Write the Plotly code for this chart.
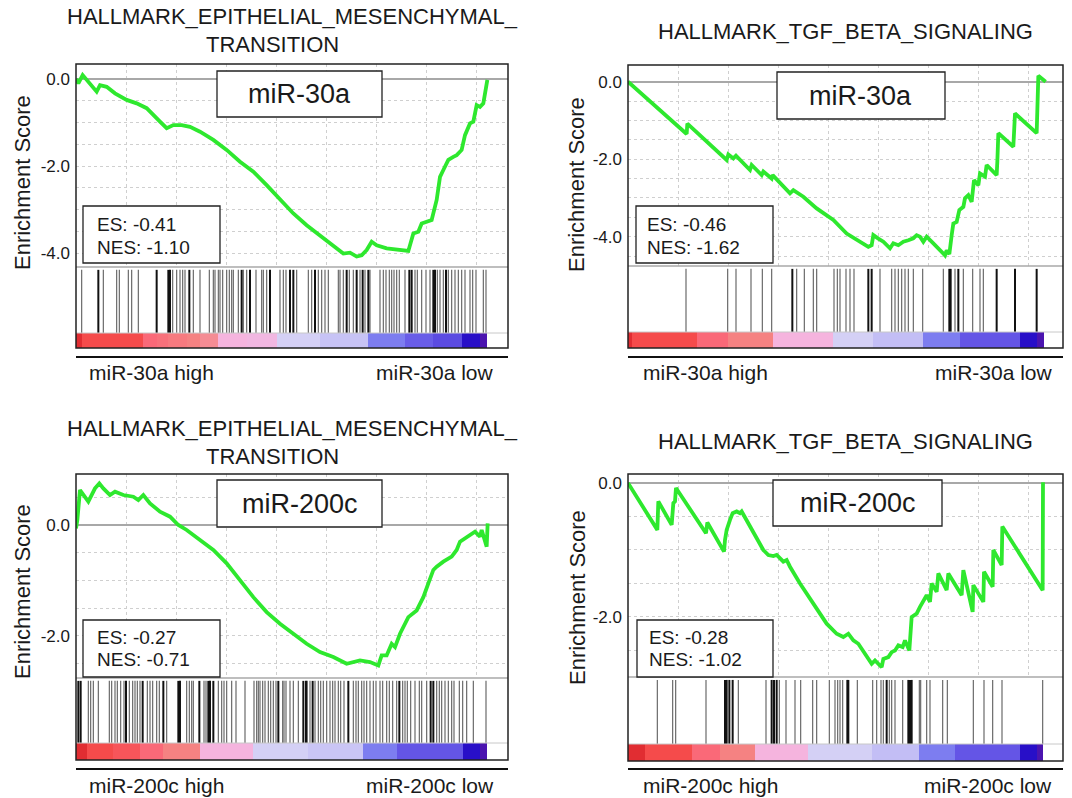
import plotly.graph_objects as go

W, H = 1072, 798
FONT = "Liberation Sans, Arial, sans-serif"

# ---------------- data ----------------
titles = [["HALLMARK_EPITHELIAL_MESENCHYMAL_", "TRANSITION"],
          ["HALLMARK_TGF_BETA_SIGNALING"],
          ["HALLMARK_EPITHELIAL_MESENCHYMAL_", "TRANSITION"],
          ["HALLMARK_TGF_BETA_SIGNALING"]]
mirnas = ["miR-30a", "miR-30a", "miR-200c", "miR-200c"]
es_values = ["-0.41", "-0.46", "-0.27", "-0.28"]
nes_values = ["-1.10", "-1.62", "-0.71", "-1.02"]
ytick_vals = [[0, -0.2, -0.4], [0, -0.2, -0.4], [0, -0.2], [0, -0.2]]
ytick_text = [["0.0", "-2.0", "-4.0"], ["0.0", "-2.0", "-4.0"], ["0.0", "-2.0"], ["0.0", "-2.0"]]

# running enrichment score (rank in ranked list, ES)
emt_30a_rank = [0, 117, 333, 700, 1033, 1200, 1533, 1950, 2533, 3033, 3533, 4200, 4533, 4867, 5283,
                5700, 6200, 6867, 7533, 8200, 8867, 9533, 10200, 10867, 11533, 12200, 12867, 13367,
                13700, 14033, 14283, 14533, 14783, 15033, 15533, 16200, 16617, 16867, 17117, 17283,
                17533, 17783, 18033, 18200, 18367, 18617, 18867, 19033, 19283, 19450, 19700, 19867,
                20033, 20200, 20367, 20450, 20567]
emt_30a_es = [0.0, -0.010, 0.009, -0.010, -0.029, -0.014, -0.018, -0.033, -0.048, -0.056, -0.067,
              -0.098, -0.113, -0.106, -0.106, -0.110, -0.121, -0.140, -0.163, -0.190, -0.213, -0.244,
              -0.278, -0.309, -0.336, -0.359, -0.382, -0.401, -0.399, -0.408, -0.405, -0.393, -0.374,
              -0.382, -0.389, -0.393, -0.395, -0.355, -0.351, -0.332, -0.328, -0.324, -0.278, -0.225,
              -0.209, -0.186, -0.179, -0.175, -0.163, -0.129, -0.102, -0.098, -0.060, -0.064, -0.056,
              -0.029, -0.002]

tgf_30a_rank = [0, 2933, 2967, 4933, 5017, 5267, 5400, 6100, 6183, 6683, 6767, 7183, 7233, 8100, 8267,
                8767, 9433, 10267, 10933, 11433, 12017, 12183, 12267, 12517, 12767, 13100, 13267, 13517,
                13767, 14017, 14267, 14433, 14600, 14767, 14933, 15267, 15600, 15850, 15933, 16067,
                16183, 16267, 16433, 16567, 16767, 16850, 17017, 17183, 17300, 17517, 17600, 17850,
                17933, 18433, 18467, 18517, 19267, 19350, 20433, 20467, 20517, 20883]
tgf_30a_es = [0.0, -0.135, -0.108, -0.202, -0.188, -0.198, -0.191, -0.228, -0.215, -0.241, -0.232,
              -0.250, -0.241, -0.288, -0.280, -0.297, -0.327, -0.357, -0.392, -0.409, -0.426, -0.422,
              -0.396, -0.405, -0.413, -0.430, -0.417, -0.422, -0.413, -0.409, -0.404, -0.396, -0.400,
              -0.413, -0.400, -0.417, -0.435, -0.448, -0.435, -0.445, -0.396, -0.366, -0.362, -0.331,
              -0.323, -0.301, -0.293, -0.310, -0.254, -0.267, -0.237, -0.245, -0.215, -0.241, -0.206,
              -0.133, -0.168, -0.082, -0.133, -0.056, 0.015, 0.0]

emt_200c_rank = [0, 67, 200, 450, 617, 950, 1167, 1367, 1700, 1950, 2367, 2867, 3117, 3367, 3700, 4200,
                 4700, 5117, 5533, 6200, 6867, 7533, 8200, 8867, 9533, 10200, 10867, 11533, 12200, 12867,
                 13533, 13867, 14200, 14700, 15117, 15283, 15533, 15783, 15950, 16200, 16450, 16617,
                 17033, 17367, 17617, 17867, 18033, 18367, 18783, 19033, 19200, 19450, 19617, 19783,
                 19950, 20200, 20283, 20533, 20583]
emt_200c_es = [-0.006, 0.009, 0.063, 0.051, 0.042, 0.066, 0.075, 0.066, 0.054, 0.060, 0.054, 0.051,
               0.045, 0.054, 0.039, 0.024, 0.015, 0.0, -0.009, -0.027, -0.045, -0.069, -0.099, -0.130,
               -0.157, -0.178, -0.196, -0.214, -0.229, -0.238, -0.250, -0.247, -0.244, -0.247, -0.253,
               -0.235, -0.235, -0.214, -0.220, -0.196, -0.178, -0.166, -0.154, -0.130, -0.105, -0.081,
               -0.075, -0.066, -0.057, -0.045, -0.030, -0.024, -0.021, -0.018, -0.012, -0.021, -0.009,
               -0.039, 0.003]

tgf_200c_rank = [0, 1467, 1517, 2183, 2267, 2350, 2400, 3900, 3967, 4800, 4850, 4933, 5100, 5233, 5433,
                 5600, 5683, 6767, 7017, 7267, 7433, 7767, 7933, 8100, 8600, 9267, 9933, 10433, 10767,
                 11017, 11267, 11517, 11850, 12183, 12350, 12517, 12683, 12767, 13017, 13183, 13350,
                 13517, 13733, 13850, 14067, 14183, 14433, 14600, 14767, 14933, 15100, 15183, 15433,
                 15517, 15933, 16017, 16683, 16767, 17233, 17267, 17767, 17800, 18233, 18267, 18683,
                 18717, 20733, 20750]
tgf_200c_es = [0.0, -0.070, -0.0275, -0.0625, -0.030, -0.0275, -0.0075, -0.075, -0.059, -0.1025,
               -0.085, -0.070, -0.055, -0.045, -0.0425, -0.045, -0.0425, -0.100, -0.1075, -0.109,
               -0.1075, -0.1175, -0.115, -0.125, -0.150, -0.180, -0.210, -0.225, -0.230, -0.225,
               -0.235, -0.240, -0.255, -0.270, -0.265, -0.270, -0.275, -0.2625, -0.260, -0.2525,
               -0.250, -0.2425, -0.245, -0.235, -0.250, -0.200, -0.195, -0.185, -0.175, -0.1675,
               -0.1775, -0.150, -0.1625, -0.135, -0.160, -0.135, -0.1675, -0.130, -0.1925, -0.1525,
               -0.1775, -0.1325, -0.155, -0.100, -0.1225, -0.065, -0.160, 0.001]

# gene-set hits in the ranked list (normal / strong marks)
emt_30a_hits = [283, 1367, 2033, 2167, 2617, 2783, 3117, 4833, 5033, 5200, 5333, 5450, 5867, 6200, 6667,
                6867, 6950, 7117, 7200, 7333, 7533, 7667, 7783, 7867, 8117, 8367, 8533, 9000, 9283, 9367,
                9533, 10200, 10367, 10500, 11033, 11617, 11783, 12117, 12283, 12450, 12617, 13117, 13200,
                13367, 13667, 13867, 14200, 14450, 14700, 15200, 15367, 15500, 15667, 15783, 15900, 16033,
                16167, 16450, 16950, 17067, 17283, 17500, 17700, 18067, 18200, 18367, 18617, 18783, 18950,
                19117, 19283, 19450, 19700, 19833, 20000, 20367, 20500]
emt_30a_hits_strong = [1117, 4033, 4617, 4700, 5667, 8283, 8700, 9700, 10700, 10867, 11950, 13533, 14033,
                       14333, 14617, 16667, 16783, 17867, 17950, 18500]

tgf_30a_hits = [2900, 4983, 5400, 6150, 6717, 7183, 8433, 8817, 9267, 9433, 10300, 10467, 10600, 10900,
                11100, 11300, 12600, 13183, 13350, 13517, 13683, 13850, 14017, 14267, 14733, 15767, 16350,
                16767, 17233, 17600, 17767]
tgf_30a_hits_strong = [8217, 12017, 12183, 16067, 16133, 16517, 18433, 19350, 20433]

emt_200c_hits = [617, 733, 867, 1117, 1667, 1783, 1950, 2067, 2233, 2400, 2667, 2833, 2950, 3067, 3200,
                 3567, 3700, 3833, 4033, 4167, 4533, 5533, 5667, 5783, 5867, 6400, 6500, 7117, 7283, 7400,
                 7533, 7783, 8000, 8450, 8900, 9033, 9117, 9200, 9333, 9450, 9617, 9733, 9867, 10000,
                 10333, 10400, 10500, 10700, 10867, 11117, 11567, 11700, 11950, 12117, 12233, 12367, 12533,
                 12700, 12833, 12950, 13117, 13233, 13400, 13867, 14000, 14117, 14283, 14400, 14533, 14700,
                 14867, 15000, 15200, 15333, 15533, 15667, 15833, 16033, 16333, 16450, 16567, 16733, 16950,
                 17167, 17283, 17533, 18033, 18167, 18283, 18450, 18617, 18783, 18900, 19167, 19333, 19533,
                 19867, 20500]
emt_200c_hits_strong = [117, 233, 2500, 3333, 4367, 5117, 5200, 6167, 6617, 6700, 6867, 10117, 11367,
                        11500, 11833, 13617, 16167, 17733, 17867]

tgf_200c_hits = [1467, 2233, 2383, 3900, 5517, 6900, 7567, 7900, 8350, 8633, 9233, 9433, 10067, 10350,
                 10483, 10600, 10733, 11467, 12233, 12433, 12650, 12767, 13067, 13183, 13350, 13733, 14567,
                 14633, 14933, 15100, 15733, 15967, 17267, 17800, 18233, 18700, 20733]
tgf_200c_hits_strong = [4850, 4933, 5067, 5233, 7183, 7300, 7433, 10967, 11017, 12933, 14017, 14100, 14183]

# ranked-list metric blocks (edges in rank, metric level of each block)
emt_30a_grad_edges = [0, 283, 3367, 4033, 4617, 5533, 6200, 7117, 8533, 10033, 12200, 14617, 16450, 17867,
                      19283, 20200, 20567]
emt_30a_grad_level = [1.0, 0.9, 0.75, 0.7, 0.65, 0.6, 0.57, 0.45, 0.42, 0.2, 0.05, -0.3, -0.5, -0.6, -0.9, -1.0]
tgf_30a_grad_edges = [0, 183, 3433, 5017, 7267, 10267, 12267, 14767, 16600, 19600, 20433, 20817]
tgf_30a_grad_level = [1.0, 0.9, 0.75, 0.6, 0.45, 0.2, 0.0, -0.3, -0.55, -0.9, -1.0]
emt_200c_grad_edges = [0, 533, 1867, 3200, 4367, 6200, 8867, 11617, 14367, 16033, 19367, 20200, 20533]
emt_200c_grad_level = [1.0, 0.9, 0.85, 0.75, 0.6, 0.45, 0.2, 0.08, -0.3, -0.55, -0.9, -1.0]
tgf_200c_grad_edges = [0, 850, 3183, 4600, 6350, 9017, 12183, 14567, 16350, 19600, 20433, 20767]
tgf_200c_grad_level = [1.0, 0.9, 0.75, 0.6, 0.45, 0.2, 0.0, -0.3, -0.55, -0.9, -1.0]

series = [
    (emt_30a_rank, emt_30a_es, emt_30a_hits, emt_30a_hits_strong, emt_30a_grad_edges, emt_30a_grad_level),
    (tgf_30a_rank, tgf_30a_es, tgf_30a_hits, tgf_30a_hits_strong, tgf_30a_grad_edges, tgf_30a_grad_level),
    (emt_200c_rank, emt_200c_es, emt_200c_hits, emt_200c_hits_strong, emt_200c_grad_edges, emt_200c_grad_level),
    (tgf_200c_rank, tgf_200c_es, tgf_200c_hits, tgf_200c_hits_strong, tgf_200c_grad_edges, tgf_200c_grad_level),
]

# ---------------- layout (pixels) ----------------
panels = [
    dict(left=76, right=508, top=64, sep=267, gtop=333, bottom=348, line=357, lab=372,
         xmax=21600, yr=[-0.432, 0.0345], tl=[(292, 17), (272, 45)], yt=(22, 183),
         mir=(217, 71, 382, 117), esb=(83, 206, 220, 263), est=(95, 225, 247), hl=87, lr=496),
    dict(left=628, right=1063, top=65, sep=266, gtop=332, bottom=348, line=357, lab=372,
         xmax=21750, yr=[-0.4756, 0.043], tl=[(845, 31)], yt=(577, 185),
         mir=(777, 72, 945, 119), esb=(636, 206, 773, 263), est=(645, 225, 247), hl=641, lr=1055),
    dict(left=76, right=508, top=474, sep=678, gtop=743, bottom=760, line=769, lab=785,
         xmax=21600, yr=[-0.2757, 0.0919], tl=[(292, 428), (272, 456)], yt=(22, 592),
         mir=(217, 480, 382, 527), esb=(83, 620, 220, 677), est=(95, 637, 659), hl=87, lr=496),
    dict(left=628, right=1063, top=474, sep=677, gtop=744, bottom=761, line=769, lab=785,
         xmax=21750, yr=[-0.2896, 0.0134], tl=[(845, 441)], yt=(577, 598),
         mir=(773, 480, 942, 526), esb=(637, 620, 773, 677), est=(647, 637, 659), hl=641, lr=1054),
]


def fx(px):
    return px / W


def fy(py):
    return 1 - py / H


colorscale = [
    [0.0, "rgb(75,20,175)"], [0.05, "rgb(40,15,200)"], [0.225, "rgb(100,85,230)"],
    [0.35, "rgb(125,125,240)"], [0.5, "rgb(195,190,245)"], [0.6, "rgb(212,208,245)"],
    [0.725, "rgb(245,180,222)"], [0.8, "rgb(245,130,130)"], [0.875, "rgb(250,105,120)"],
    [0.95, "rgb(245,75,75)"], [1.0, "rgb(225,45,50)"],
]

GREEN = "#2ee82e"
GRID = "#cfcfcf"
TXT = "#1a1a1a"

fig = go.Figure()
layout = dict(width=W, height=H, margin=dict(l=0, r=0, t=0, b=0), showlegend=False,
              paper_bgcolor="white", plot_bgcolor="white", font=dict(family=FONT, color=TXT))
shapes, annotations = [], []


def axname(kind, n):
    return f"{kind}axis" if n == 1 else f"{kind}axis{n}"


def ref(kind, n):
    return kind if n == 1 else f"{kind}{n}"


for i, (p, s) in enumerate(zip(panels, series)):
    rank, es, hits, hits_s, gedges, glevel = s
    a, b = 2 * i + 1, 2 * i + 2
    gfrac = (p["bottom"] - p["gtop"]) / (p["bottom"] - p["sep"])
    xdom = [fx(p["left"]), fx(p["right"])]

    layout[axname("x", a)] = dict(domain=xdom, range=[0, p["xmax"]], anchor=ref("y", a),
                                  showticklabels=False, ticks="", showgrid=True, tick0=0, dtick=2500,
                                  gridcolor=GRID, griddash="dot", gridwidth=1, zeroline=False,
                                  showline=False, fixedrange=True)
    layout[axname("y", a)] = dict(domain=[fy(p["sep"]), fy(p["top"])], range=p["yr"], anchor=ref("x", a),
                                  tickmode="array", tickvals=ytick_vals[i], ticktext=ytick_text[i],
                                  showgrid=True, gridcolor=GRID, griddash="dot", gridwidth=1,
                                  minor=dict(tick0=0, dtick=0.05, showgrid=True, gridcolor=GRID,
                                             griddash="dot", gridwidth=1, ticks=""),
                                  zeroline=True, zerolinecolor="#a8a8a8", zerolinewidth=1.5,
                                  ticks="", ticklabelstandoff=5, showline=False,
                                  tickfont=dict(size=17, color=TXT, family=FONT), fixedrange=True)
    layout[axname("x", b)] = dict(domain=xdom, range=[0, p["xmax"]], anchor=ref("y", b),
                                  showticklabels=False, ticks="", showgrid=False, zeroline=False,
                                  showline=False, fixedrange=True)
    layout[axname("y", b)] = dict(domain=[fy(p["bottom"]), fy(p["sep"])], range=[0, 1], anchor=ref("x", b),
                                  showticklabels=False, ticks="", showgrid=False, zeroline=False,
                                  showline=False, fixedrange=True)

    # barcode lines
    for lst, col, wd in ((hits, "#6a6a6a", 1.2), (hits_s, "#111111", 2.0)):
        bx, by = [], []
        for h in lst:
            bx += [h, h, None]
            by += [gfrac, 0.965, None]
        fig.add_trace(go.Scatter(x=bx, y=by, mode="lines", line=dict(color=col, width=wd),
                                 xaxis=ref("x", b), yaxis=ref("y", b), hoverinfo="skip"))
    # ranked-list metric band
    fig.add_trace(go.Heatmap(x=gedges, y=[0, gfrac], z=[glevel], zmin=-1, zmax=1, colorscale=colorscale,
                             showscale=False, xaxis=ref("x", b), yaxis=ref("y", b), hoverinfo="skip"))
    # enrichment score curve
    fig.add_trace(go.Scatter(x=rank, y=es, mode="lines", line=dict(color=GREEN, width=3.8),
                             xaxis=ref("x", a), yaxis=ref("y", a), hoverinfo="skip"))

    L, R = fx(p["left"]), fx(p["right"])
    # separators and frame
    shapes.append(dict(type="line", xref="paper", yref="paper", x0=L, x1=R, y0=fy(p["sep"]), y1=fy(p["sep"]),
                       line=dict(color="#a8a8a8", width=1.5)))
    shapes.append(dict(type="line", xref="paper", yref="paper", x0=L, x1=R, y0=fy(p["gtop"]), y1=fy(p["gtop"]),
                       line=dict(color="#c8c8c8", width=1)))
    shapes.append(dict(type="rect", xref="paper", yref="paper", x0=L, x1=R, y0=fy(p["bottom"]), y1=fy(p["top"]),
                       line=dict(color="#222222", width=1.5)))
    shapes.append(dict(type="line", xref="paper", yref="paper", x0=L, x1=R, y0=fy(p["line"]), y1=fy(p["line"]),
                       line=dict(color="#111111", width=2.2)))
    # label boxes
    for bx0, by0, bx1, by1 in (p["mir"], p["esb"]):
        shapes.append(dict(type="rect", xref="paper", yref="paper", x0=fx(bx0), x1=fx(bx1),
                           y0=fy(by1), y1=fy(by0), line=dict(color="#222222", width=1.3),
                           fillcolor="white", layer="above"))
    mx0, my0, mx1, my1 = p["mir"]
    annotations.append(dict(xref="paper", yref="paper", x=fx((mx0 + mx1) / 2), y=fy((my0 + my1) / 2),
                            text=mirnas[i], showarrow=False, xanchor="center", yanchor="middle",
                            font=dict(size=27, color=TXT, family=FONT)))
    ex, ey1, ey2 = p["est"]
    annotations.append(dict(xref="paper", yref="paper", x=fx(ex), y=fy(ey1), text="ES: " + es_values[i],
                            showarrow=False, xanchor="left", yanchor="middle",
                            font=dict(size=19, color=TXT, family=FONT)))
    annotations.append(dict(xref="paper", yref="paper", x=fx(ex), y=fy(ey2), text="NES: " + nes_values[i],
                            showarrow=False, xanchor="left", yanchor="middle",
                            font=dict(size=19, color=TXT, family=FONT)))
    # titles
    for (tx, ty), t in zip(p["tl"], titles[i]):
        annotations.append(dict(xref="paper", yref="paper", x=fx(tx), y=fy(ty), text=t, showarrow=False,
                                xanchor="center", yanchor="middle", font=dict(size=22, color=TXT, family=FONT)))
    # y-axis title
    annotations.append(dict(xref="paper", yref="paper", x=fx(p["yt"][0]), y=fy(p["yt"][1]),
                            text="Enrichment Score", textangle=-90, showarrow=False,
                            xanchor="center", yanchor="middle", font=dict(size=22, color=TXT, family=FONT)))
    # high / low labels
    annotations.append(dict(xref="paper", yref="paper", x=fx(p["hl"]), y=fy(p["lab"]),
                            text=mirnas[i] + " high", showarrow=False, xanchor="left", yanchor="middle",
                            font=dict(size=21, color=TXT, family=FONT)))
    annotations.append(dict(xref="paper", yref="paper", x=fx(p["lr"]), y=fy(p["lab"]),
                            text=mirnas[i] + " low", showarrow=False, xanchor="right", yanchor="middle",
                            font=dict(size=21, color=TXT, family=FONT)))

layout["shapes"] = shapes
layout["annotations"] = annotations
fig.update_layout(**layout)
fig.write_html("out.html", config={"displayModeBar": False},
               post_script="document.body.style.margin='0';document.body.style.overflow='hidden';")
